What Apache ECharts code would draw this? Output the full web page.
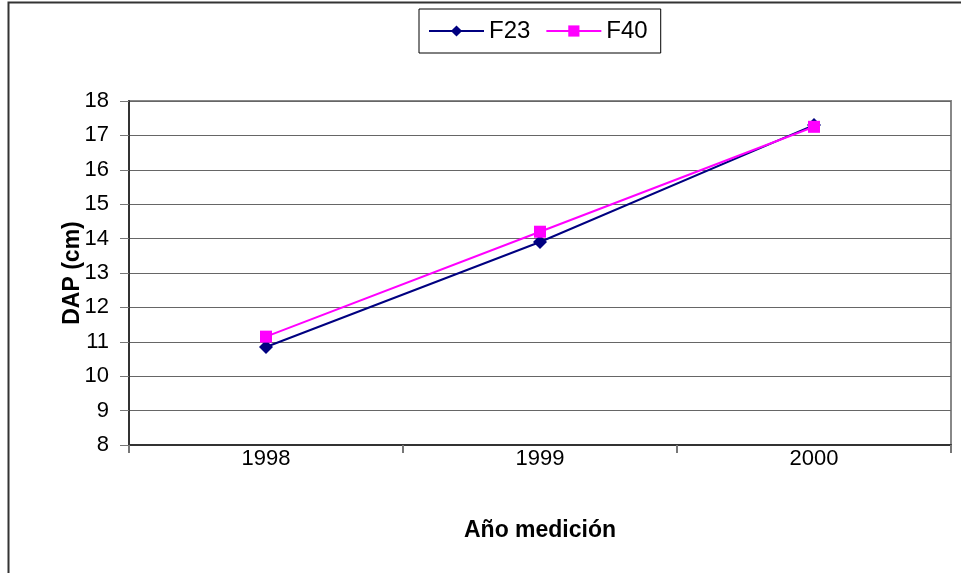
<!DOCTYPE html>
<html>
<head>
<meta charset="utf-8">
<script src="https://cdn.jsdelivr.net/npm/echarts@6/dist/echarts.min.js"></script>
<style>
  html, body { margin: 0; padding: 0; background: #fff; }
  #chart { width: 961px; height: 573px; }
</style>
</head>
<body>
<div id="chart"></div>
<script>
const years = ['1998', '1999', '2000'];
const f23 = [10.85, 13.9, 17.3];
const f40 = [11.15, 14.2, 17.25];

const chart = echarts.init(document.getElementById('chart'));
const font = 'Liberation Sans, Arial, sans-serif';

chart.setOption({
    animation: false,
    textStyle: { fontFamily: font, color: '#000' },
    graphic: [{
        type: 'rect',
        shape: { x: 8.5, y: 2.5, width: 1000, height: 1000 },
        style: { fill: 'none', stroke: '#333', lineWidth: 2 }
    }],
    grid: { left: 129, right: 10, top: 101, bottom: 128, show: true, borderColor: '#888', borderWidth: 2 },
    legend: {
        left: 419, top: 9,
        padding: [10, 13, 10, 9],
        borderColor: '#000', borderWidth: 1,
        itemWidth: 55, itemHeight: 14, itemGap: 15,
        textStyle: { fontSize: 24, fontFamily: font, color: '#000' },
        data: ['F23', 'F40']
    },
    xAxis: {
        type: 'category',
        data: years,
        name: 'Año medición',
        nameLocation: 'middle',
        nameGap: 74,
        nameMoveOverlap: false,
        nameTextStyle: { fontSize: 23, fontWeight: 'bold', fontFamily: font },
        axisLine: { lineStyle: { color: '#333', width: 2 } },
        axisTick: { show: true, length: 8, lineStyle: { color: '#777', width: 2 } },
        axisLabel: { fontSize: 22, margin: 3, color: '#000' }
    },
    yAxis: {
        type: 'value',
        min: 8, max: 18, interval: 1,
        name: 'DAP (cm)',
        nameLocation: 'middle',
        nameGap: 45,
        nameMoveOverlap: false,
        nameTextStyle: { fontSize: 23, fontWeight: 'bold', fontFamily: font },
        axisLine: { show: true, lineStyle: { color: '#333', width: 2 } },
        axisTick: { show: true, length: 9, lineStyle: { color: '#777', width: 1 } },
        axisLabel: { fontSize: 22, margin: 20, color: '#000' },
        splitLine: { lineStyle: { color: '#666', width: 1 } }
    },
    series: [
        {
            name: 'F23', type: 'line', data: f23,
            symbol: 'diamond', symbolSize: 14,
            lineStyle: { color: '#000080', width: 2 },
            itemStyle: { color: '#000080' }
        },
        {
            name: 'F40', type: 'line', data: f40,
            symbol: 'rect', symbolSize: 12,
            lineStyle: { color: '#FF00FF', width: 2 },
            itemStyle: { color: '#FF00FF' }
        }
    ]
});
</script>
</body>
</html>
